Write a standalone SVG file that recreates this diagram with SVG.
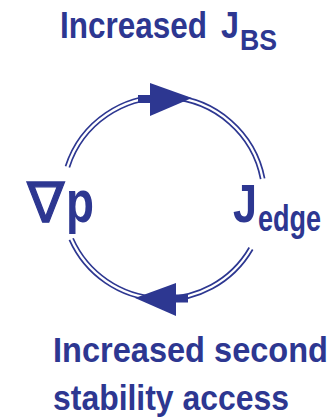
<svg xmlns="http://www.w3.org/2000/svg" width="333" height="420" viewBox="0 0 333 420">
  <style>
    .t { font-family: "Liberation Sans", Arial, sans-serif; font-weight: bold; fill: #2d3791; }
    .nabla { font-family: "DejaVu Sans", sans-serif; font-weight: normal; fill: #2d3791; }
    .arc { fill: none; stroke: #2d3791; stroke-width: 1.7; }
    .head { fill: #2d3791; stroke: none; }
  </style>
  <rect width="333" height="420" fill="#ffffff"/>
  <g id="connectors">
    <path class="arc" d="M 65.54 166.17 A 103 103 0 0 1 264.61 178.35"/>
    <path class="arc" d="M 69.34 167.41 A 99 99 0 0 1 260.68 179.11"/>
    <path class="arc" d="M 252.70 249.5 A 103 103 0 0 1 69.41 239.89"/>
    <path class="arc" d="M 249.24 247.5 A 99 99 0 0 1 73.06 238.27"/>
    <rect class="head" x="138" y="95" width="13" height="8"/>
    <polygon class="head" points="150,83 192,98 150,116"/>
    <rect class="head" x="175" y="294.5" width="13" height="8"/>
    <polygon class="head" points="135,298 176,283 176,316"/>
  </g>
  <g id="node-top">
    <text class="t" x="60" y="38" font-size="36" textLength="147" lengthAdjust="spacingAndGlyphs">Increased</text>
    <text class="t" x="221" y="38" font-size="36" textLength="18" lengthAdjust="spacingAndGlyphs">J</text>
    <text class="t" x="240" y="50" font-size="30" textLength="37" lengthAdjust="spacingAndGlyphs">BS</text>
  </g>
  <g id="node-left">
    <text class="nabla" x="27" y="222" font-size="56" stroke="#2d3791" stroke-width="1.2">∇</text>
    <text class="t" x="66" y="222" font-size="60" textLength="28" lengthAdjust="spacingAndGlyphs">p</text>
  </g>
  <g id="node-right">
    <text class="t" x="233" y="222" font-size="54" textLength="24" lengthAdjust="spacingAndGlyphs">J</text>
    <text class="t" x="258" y="231" font-size="36" textLength="63" lengthAdjust="spacingAndGlyphs">edge</text>
  </g>
  <g id="node-bottom">
    <text class="t" x="53" y="362" font-size="35" textLength="275" lengthAdjust="spacingAndGlyphs">Increased second</text>
    <text class="t" x="53" y="410" font-size="35" textLength="236" lengthAdjust="spacingAndGlyphs">stability access</text>
  </g>
</svg>
